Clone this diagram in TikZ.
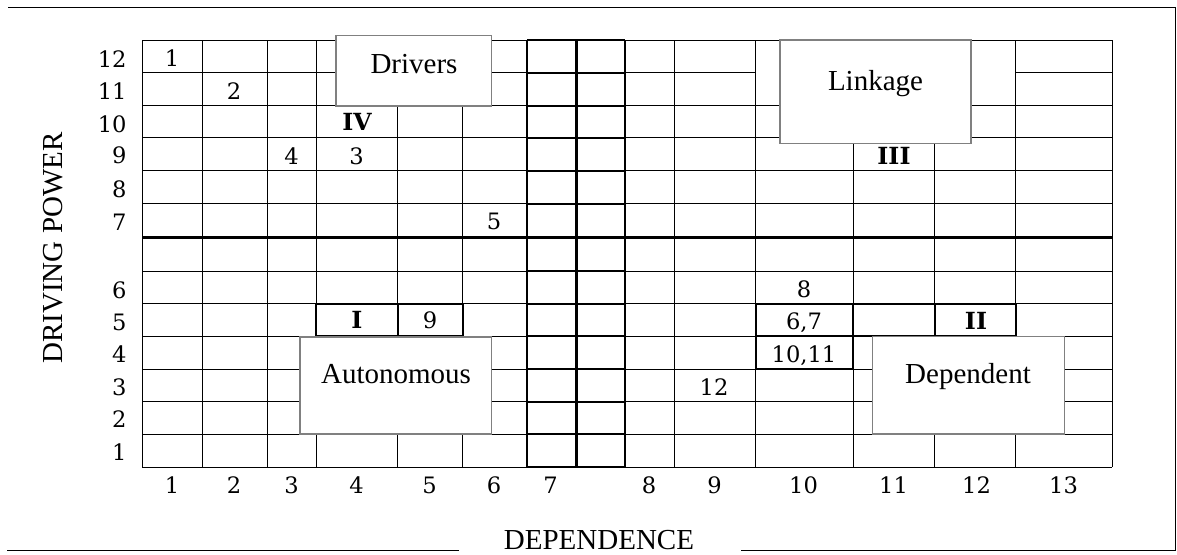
\documentclass[tikz,border=0pt]{standalone}
\usepackage{fontspec}
\setmainfont{Liberation Serif}
\newfontfamily\numfont{DejaVu Serif}
\definecolor{boxgray}{RGB}{128,128,128}
\begin{document}
\begin{tikzpicture}[x=0.5pt,y=-0.5pt,
  gridline/.style={line width=0.5pt},
  midline/.style={line width=1pt},
  axisline/.style={line width=1.5pt},
  outerframe/.style={line width=0.5pt},
  quadbox/.style={draw=boxgray,fill=white,line width=0.6pt},
  boxtext/.style={font=\fontsize{14.5}{17}\selectfont,anchor=base,inner sep=0pt},
  cellnum/.style={font=\numfont\fontsize{11.3}{13}\selectfont,anchor=base,inner sep=0pt},
  roman/.style={font=\numfont\bfseries\fontsize{11.8}{13}\selectfont,anchor=base,inner sep=0pt}]
\useasboundingbox (0,0) rectangle (1177,554);

% outer frame, open at the bottom for the axis title
\draw[outerframe] (8,7.5) -- (1175.5,7.5) -- (1175.5,550) -- (741,550);
\draw[outerframe] (459,550) -- (7,550);

% plain grid
\foreach \x in {142,202,267,316,397.5,462.5,527,576,625,674,755.5,853,934.5,1015.5,1112}
  \draw[gridline] (\x,40) -- (\x,467);
\foreach \y in {40,105.5,137.5,170.5,203.5,237,271,303.5,336,369,401.5,434,467}
  \draw[gridline] (142,\y) -- (1112,\y);
\draw[gridline] (142,72.5) -- (755.5,72.5);
\draw[gridline] (1015.5,72.5) -- (1112,72.5);

% column 7 band
\draw[midline] (527,40) -- (527,467);
\draw[midline] (625,40) -- (625,467);
\foreach \y in {40,72.5,105.5,137.5,170.5,203.5,271,303.5,336,369,401.5,434,467}
  \draw[midline] (527,\y) -- (625,\y);

% highlighted cells
\draw[midline] (316,303.5) rectangle (397.5,336);
\draw[midline] (397.5,303.5) rectangle (462.5,336);
\draw[midline] (755.5,303.5) rectangle (853,336);
\draw[midline] (853,303.5) rectangle (934.5,336);
\draw[midline] (934.5,303.5) rectangle (1015.5,336);
\draw[midline] (755.5,336) rectangle (853,369);

% quadrant dividers
\draw[axisline] (142,237) -- (1112,237);
\draw[axisline] (576,40) -- (576,467);

% quadrant boxes
\filldraw[quadbox] (336,35.5) rectangle (491.5,106);
\filldraw[quadbox] (780,40) rectangle (971,143.5);
\filldraw[quadbox] (300,337) rectangle (491.5,434);
\filldraw[quadbox] (872.5,336.5) rectangle (1064.5,434);

\node[boxtext] (drivers) at (414,73) {Drivers};
\node[boxtext] (linkage) at (875.5,90) {Linkage};
\node[boxtext] (autonomous) at (396,383) {Autonomous};
\node[boxtext] (dependent) at (968,383) {Dependent};

% axis titles
\node[boxtext,rotate=90] (ytitle) at (62,248) {DRIVING POWER};
\node[boxtext] (xtitle) at (599,549.5) {DEPENDENCE};

% axis numbers
\foreach \v/\b in {12/67,11/99,10/132,9/163.5,8/197,7/230,6/298,5/330,4/362,3/395,2/427,1/460}
  \node[cellnum,anchor=base east] (y\v) at (127,\b) {\v};
\foreach \v/\c in {1/172,2/234,3/291.5,4/356.5,5/429.5,6/494,7/550.5,8/649,9/714.5,10/803.5,11/893.5,12/976.5,13/1063.5}
  \node[cellnum] (x\v) at (\c,493) {\v};

% entries
\node[cellnum] (e1) at (172,66) {1};
\node[cellnum] (e2) at (234,99) {2};
\node[roman] (qIV) at (357,130) {IV};
\node[cellnum] (e4) at (291.5,164.5) {4};
\node[cellnum] (e3) at (356.5,164.5) {3};
\node[cellnum] (e5) at (494,229) {5};
\node[cellnum] (e8) at (804,297) {8};
\node[roman] (qI) at (357,328.5) {I};
\node[cellnum] (e9) at (430,328.5) {9};
\node[cellnum] (e67) at (804,329.5) {6,7};
\node[roman] (qII) at (976,329) {II};
\node[cellnum] (e1011) at (804,362) {10,11};
\node[cellnum] (e12) at (714,395) {12};
\node[roman] (qIII) at (894,164) {III};
\end{tikzpicture}
\end{document}
